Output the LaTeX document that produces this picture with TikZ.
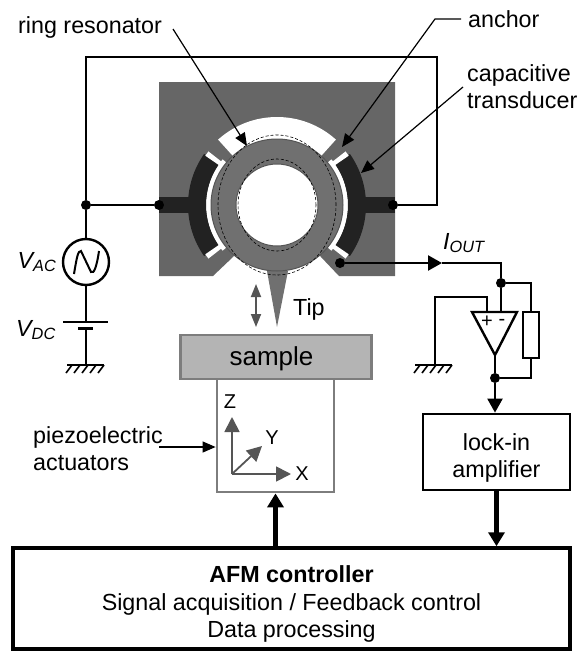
\documentclass[tikz,border=0pt]{standalone}
\usepackage{fontspec}
\setmainfont{Liberation Sans}
\usetikzlibrary{arrows.meta,calc}
\definecolor{afmbody}{RGB}{102,102,102}
\definecolor{afmring}{RGB}{112,112,112}
\definecolor{afmdark}{RGB}{34,34,34}
\definecolor{afmgray}{RGB}{85,85,85}
\definecolor{afmsample}{RGB}{180,180,180}
\definecolor{afmedge}{RGB}{125,125,125}
\newcommand{\annsector}[5]{\fill[#5] ($(ringc)+(#3:#2pt)$) arc[start angle=#3,end angle=#4,radius=#2pt] -- ($(ringc)+(#4:#1pt)$) arc[start angle=#4,end angle=#3,radius=#1pt] -- cycle;}
\begin{document}
\begin{tikzpicture}[x=1pt,y=-1pt,
      lbl/.style={font=\fontsize{23.3}{27}\selectfont,align=center,inner sep=0pt},
      axlbl/.style={font=\fontsize{20}{24}\selectfont,inner sep=0pt},
      wire/.style={draw=black,line width=2.4pt},
      leader/.style={draw=black,line width=1.2pt,-{Triangle[length=13pt,width=11pt]}},
      wirearrow/.style={wire,-{Triangle[length=14pt,width=15pt]}},
      fatarrow/.style={draw=black,line width=5pt,-{Triangle[length=14pt,width=16pt]}},
      grayarrow/.style={draw=afmgray,line width=1.8pt,-{Triangle[length=15pt,width=15pt]}},
      dot/.style={circle,fill=black,inner sep=0pt,minimum size=10pt},
      block/.style={draw=black,line width=2.8pt,fill=white,inner sep=0pt}]
    \useasboundingbox (0,0) rectangle (582,651);
    % device
    \coordinate (ringc) at (277,205);
    \fill[afmbody] (159,82) -- (395,82) -- (395,276) -- (339,276) -- (321,257) -- (ringc) -- (233,257) -- (213,276) -- (159,276) -- cycle;
    \annsector{65}{88}{48}{132}{white}
    \annsector{65}{71}{140}{220}{white}
    \annsector{65}{71}{-40}{40}{white}
    \annsector{71}{89}{145}{215}{afmdark}
    \annsector{71}{89}{-35}{35}{afmdark}
    \annsector{66}{87}{142}{145.5}{white}
    \annsector{66}{87}{214.5}{218}{white}
    \annsector{66}{87}{-38}{-34.5}{white}
    \annsector{66}{87}{34.5}{38}{white}
    \fill[afmdark] (159,197) rectangle (190,213);
    \fill[afmdark] (364,197) rectangle (395,213);
    \fill[afmring] (267,271) -- (288,271) -- (277,327) -- cycle;
    \draw[afmgray,fill=afmring,line width=1pt] (ringc) circle[radius=66pt];
    \draw[afmgray,fill=white,line width=1pt] (ringc) circle[radius=41pt];
    \draw[black,densely dashed,line width=0.6pt] (ringc) ellipse[x radius=59pt,y radius=70pt];
    \draw[black,densely dashed,line width=0.6pt] (ringc) ellipse[x radius=39pt,y radius=46pt];
    % drive
    \node[dot] (dl) at (159,205) {};
    \node[dot] (dr) at (393,205) {};
    \node[dot] (dj) at (86,205) {};
    \node[dot] (dout) at (340,263) {};
    \node[circle,draw=black,line width=2.4pt,fill=white,minimum size=46pt,inner sep=0pt] (vac) at (86,262) {};
    \draw[black,line width=2pt] (74,274) .. controls (77,256) and (78,251) .. (81,251) -- (91,272) .. controls (94,275) and (97,265) .. (99,251);
    \coordinate (plus) at (86,322);
    \coordinate (minus) at (86,328);
    \coordinate (gndl) at (86,365);
    \draw[wire] (dj) -- (vac);
    \draw[wire] (vac) -- (plus);
    \draw[wire] (63,322) -- (108,322);
    \draw[wire,line width=3pt] (78,328) -- (93,328);
    \draw[wire] (minus) -- (gndl);
    \draw[wire] (dj) -- (dl);
    \draw[wire] (dj) -- (86,57) -- (437,57) |- (dr);
    \foreach \gx/\gy in {67/365,415/365} {
      \draw[wire] (\gx,\gy) -- ++(37,0);
      \foreach \hx in {5,13,21,29,37} \draw[black,line width=1.6pt] (\gx+\hx,\gy) -- ++(-6,8);
    }
    \node[lbl] (lvac) at (37,262) {\textit{V\textsubscript{AC}}};
    \node[lbl] (lvdc) at (36,330) {\textit{V\textsubscript{DC}}};
    % sample stage
    \draw[grayarrow,{Triangle[length=13pt,width=10pt]}-{Triangle[length=13pt,width=10pt]}] (256,284) -- (256,327);
    \node[lbl,anchor=west] (tip) at (293,309) {Tip};
    \node[block,draw=afmedge,minimum width=117pt,minimum height=113pt] (piezo) at (275.5,435.5) {};
    \node[block,draw=afmedge,fill=afmsample,minimum width=191pt,minimum height=44pt] (sample) at (276,357) {};
    \node[lbl,font=\fontsize{26}{30}\selectfont] (lsample) at (271.5,359) {sample};
    \coordinate (axo) at (232,474);
    \coordinate (axz) at (232,417);
    \coordinate (axx) at (291,474);
    \coordinate (axy) at (262,446);
    \draw[grayarrow] (axo) -- (axz);
    \draw[grayarrow] (axo) -- (axx);
    \draw[grayarrow] (axo) -- (axy);
    \node[axlbl] (lz) at (230,402) {Z};
    \node[axlbl] (ly) at (272,438) {Y};
    \node[axlbl] (lx) at (302,474) {X};
    % readout
    \node[lbl,anchor=west] (liout) at (443,243) {\textit{I\textsubscript{OUT}}};
    \node[dot] (dtop) at (501,283) {};
    \node[dot] (dbot) at (495,378) {};
    \node[block,minimum width=16pt,minimum height=46pt] (res) at (531,335) {};
    \draw[wire,line join=miter] (472,312) -- (517,312) -- (495,355) -- cycle;
    \coordinate (opout) at (495,355);
    \node[font=\fontsize{20}{20}\selectfont,inner sep=0pt] (oppl) at (487,322) {+};
    \node[font=\fontsize{20}{20}\selectfont,inner sep=0pt] (opmi) at (502,322) {-};
    \node[block,minimum width=147pt,minimum height=76pt] (lockin) at (496.5,452) {};
    \node[lbl] (llockin) at (496.5,458) {lock-in\\amplifier};
    \node[block,line width=3.5pt,minimum width=557pt,minimum height=101pt] (afm) at (291.5,598.5) {};
    \node[lbl] (lafm) at (291.5,604) {\textbf{AFM controller}\\[0.5pt]Signal acquisition / Feedback control\\[0.5pt]Data processing};
    \coordinate (iturn) at (501,263);
    \coordinate (imark) at (442,263);
    \draw[wirearrow] (dout) -- (imark);
    \draw[wire] (imark) -- (iturn) -- (dtop);
    \draw[wire] (dtop) -- (501,312);
    \draw[wire] (dtop) -| (res.north);
    \draw[wire] (res.south) |- (dbot);
    \draw[wire] (487,312) |- (435,297) -- (435,365);
    \draw[wire] (opout) -- (dbot);
    \draw[wirearrow] (dbot) -- (dbot |- lockin.north);
    \draw[fatarrow] (afm.north -| piezo.south) -- (piezo.south);
    \draw[fatarrow] (lockin.south) -- (afm.north -| lockin.south);
    % callouts
    \node[lbl,anchor=west] (lring) at (18,27) {ring resonator};
    \node[lbl,anchor=west] (lanchor) at (468,19) {anchor};
    \node[lbl,anchor=west,align=left] (lcap) at (467,87) {capacitive\\transducer};
    \node[lbl,anchor=west,align=left] (lpiezo) at (33,448.5) {piezoelectric\\actuators};
    \coordinate (cring) at (173,29);
    \coordinate (canchor) at (461,19);
    \coordinate (canchorb) at (435,19);
    \coordinate (ccap) at (463,87);
    \coordinate (cpiezo) at (159,447);
    \draw[leader] (cring) -- (247,146);
    \draw[leader] (canchor) -- (canchorb) -- (342,147);
    \draw[leader] (ccap) -- (361,173);
    \draw[leader] (cpiezo) -- (piezo.west |- cpiezo);
  \end{tikzpicture}
\end{document}
